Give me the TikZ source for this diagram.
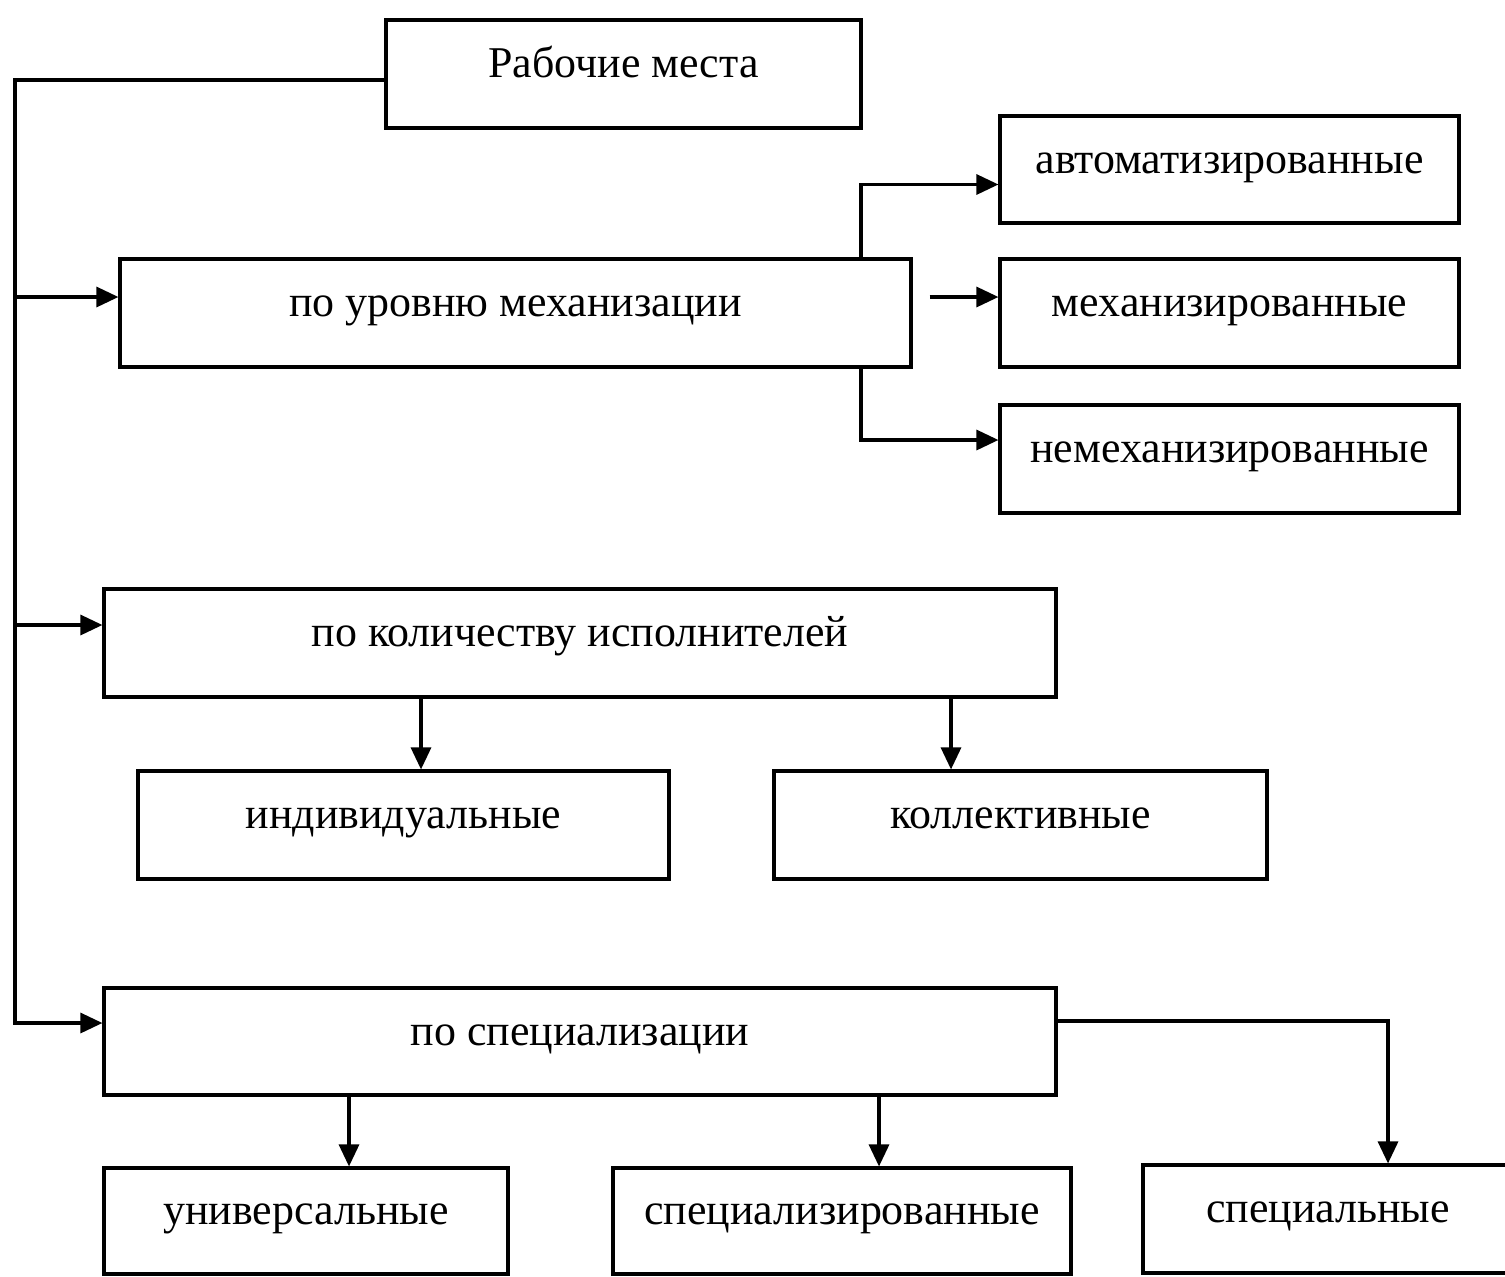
\documentclass[tikz,border=0pt]{standalone}
\usepackage{fontspec}
\setmainfont{Liberation Serif}
\usetikzlibrary{arrows.meta}
\usetikzlibrary{calc}

\begin{document}
\begin{tikzpicture}[
		box/.style={draw, line width=0.9pt, minimum height=1.08cm, inner sep=0pt,
			font=\fontsize{12.5}{15}\selectfont, text height=9pt, text depth=7pt},
		arr/.style={line width=0.9pt, -{Triangle[length=0.22cm,width=0.2cm]}},
		ln/.style={line width=0.9pt}]
		\useasboundingbox (0,0) rectangle (15.05,-12.76);
		\clip (0,0) rectangle (15.05,-12.76);
		\node[box, minimum width=4.75cm] (top) at (6.235,-0.74) {Рабочие места};
		
		\node[box, minimum width=7.91cm] (mech) at (5.155,-3.13) {по уровню механизации};
		\node[box, minimum width=4.59cm, minimum height=1.07cm] (avto) at (12.295,-1.695) {автоматизированные};
		\node[box, minimum width=4.59cm] (mechd) at (12.295,-3.13) {механизированные};
		\node[box, minimum width=4.59cm] (nemech) at (12.295,-4.59) {немеханизированные};
		
		\node[box, minimum width=9.52cm] (kol) at (5.80,-6.43) {по количеству исполнителей};
		\node[box, minimum width=5.31cm] (indiv) at (4.035,-8.25) {индивидуальные};
		\node[box, minimum width=4.93cm] (koll) at (10.205,-8.25) {коллективные};
		
		\node[box, minimum width=9.52cm, minimum height=1.07cm] (spec) at (5.80,-10.415) {по специализации};
		\node[box, minimum width=4.04cm, minimum height=1.06cm] (univ) at (3.06,-12.21) {универсальные};
		\node[box, minimum width=4.58cm, minimum height=1.06cm] (specd) at (8.42,-12.21) {специализированные};
		\node[box, minimum width=3.70cm, minimum height=1.08cm] (specl) at (13.28,-12.19) {специальные};
		
		\coordinate (bl) at (0.15,-10.23);
		\coordinate (a1) at ([yshift=0.16cm]mech.west);
		\coordinate (a2) at ([yshift=0.18cm]kol.west);
		\coordinate (m1) at (8.61,0);
		\coordinate (s1) at (13.88,-10.21);
		
		\draw[arr] ([yshift=-0.06cm]top.west) -| (bl) -- (bl -| spec.west);
		\draw[arr] (bl |- a1) -- (a1);
		\draw[arr] (bl |- a2) -- (a2);
		
		\draw[arr] (mech.north -| m1) |- ([yshift=-0.15cm]avto.west);
		\draw[arr] ([xshift=0.17cm,yshift=0.16cm]mech.east) -- ([yshift=0.16cm]mechd.west);
		\draw[arr] (mech.south -| m1) |- ([yshift=0.19cm]nemech.west);
		
		\draw[arr] (kol.south -| 4.21,0) -- (indiv.north -| 4.21,0);
		\draw[arr] (kol.south -| 9.51,0) -- (koll.north -| 9.51,0);
		
		\draw[arr] (spec.south -| 3.49,0) -- (univ.north -| 3.49,0);
		\draw[arr] (spec.south -| 8.79,0) -- (specd.north -| 8.79,0);
		\draw[arr] (spec.east |- s1) -| (specl.north -| s1);
\end{tikzpicture}
\end{document}
